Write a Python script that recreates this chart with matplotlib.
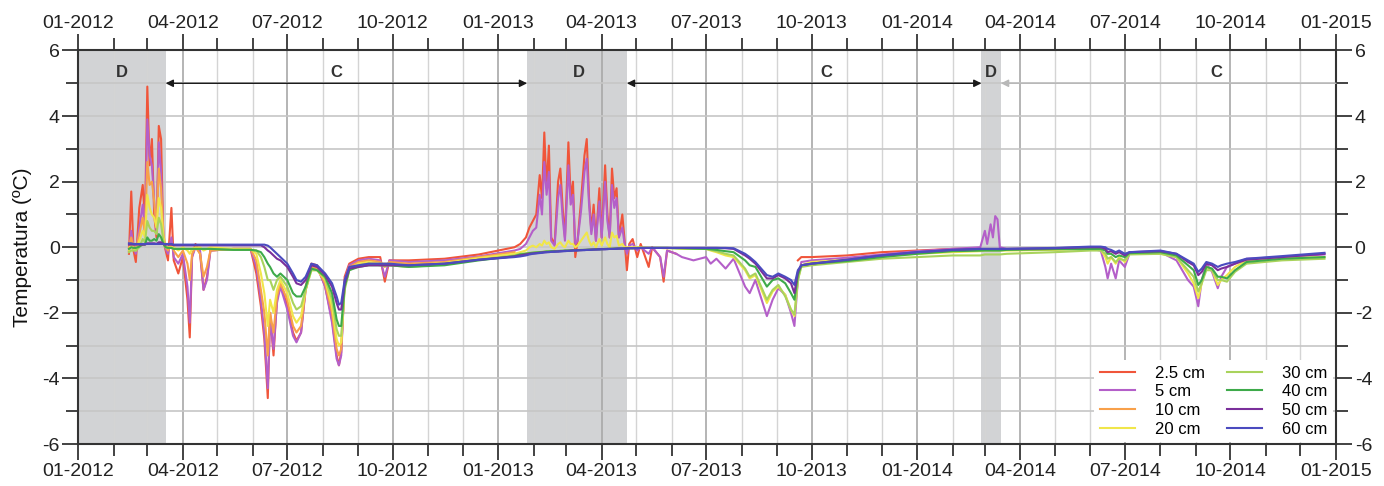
import numpy as np
import pandas as pd
import matplotlib
matplotlib.use('Agg')
import matplotlib.pyplot as plt
import matplotlib.dates as mdates

nan = np.nan

# ---------------- data ----------------
dates = [
    # 2012
    '2012-02-14', '2012-02-16', '2012-02-18', '2012-02-20', '2012-02-23', '2012-02-26', '2012-02-28', '2012-03-01', '2012-03-03', '2012-03-05',
    '2012-03-07', '2012-03-09', '2012-03-11', '2012-03-13', '2012-03-15', '2012-03-17', '2012-03-19', '2012-03-22', '2012-03-24', '2012-03-28',
    '2012-04-01', '2012-04-05', '2012-04-07', '2012-04-09', '2012-04-12', '2012-04-16', '2012-04-19', '2012-04-22', '2012-04-25', '2012-05-15',
    '2012-05-30', '2012-06-04', '2012-06-08', '2012-06-11', '2012-06-14', '2012-06-16', '2012-06-19', '2012-06-22', '2012-06-25', '2012-07-01',
    '2012-07-06', '2012-07-09', '2012-07-13', '2012-07-17', '2012-07-22', '2012-07-27', '2012-08-03', '2012-08-09', '2012-08-13', '2012-08-15',
    '2012-08-17', '2012-08-20', '2012-08-24', '2012-09-01', '2012-09-10', '2012-09-20', '2012-09-24', '2012-09-28', '2012-10-15', '2012-11-15',
    '2012-12-15', '2013-01-15',
    # 2013
    '2013-01-20', '2013-01-25', '2013-01-28', '2013-01-31', '2013-02-03', '2013-02-06', '2013-02-08', '2013-02-10', '2013-02-12', '2013-02-14',
    '2013-02-16', '2013-02-19', '2013-02-22', '2013-02-24', '2013-02-26', '2013-02-28', '2013-03-03', '2013-03-05', '2013-03-07', '2013-03-09',
    '2013-03-11', '2013-03-14', '2013-03-17', '2013-03-19', '2013-03-21', '2013-03-23', '2013-03-25', '2013-03-27', '2013-03-30', '2013-04-01',
    '2013-04-04', '2013-04-06', '2013-04-08', '2013-04-10', '2013-04-12', '2013-04-14', '2013-04-16', '2013-04-19', '2013-04-21', '2013-04-23',
    '2013-04-25', '2013-04-28', '2013-05-02', '2013-05-05', '2013-05-12', '2013-05-15', '2013-05-22', '2013-05-25', '2013-05-28', '2013-06-05',
    '2013-06-10', '2013-06-20', '2013-07-01', '2013-07-05', '2013-07-10', '2013-07-18', '2013-07-25', '2013-08-04', '2013-08-08', '2013-08-13',
    '2013-08-23', '2013-08-28', '2013-09-02', '2013-09-08', '2013-09-13', '2013-09-16', '2013-09-19', '2013-09-22', '2013-10-01', '2013-11-01',
    '2013-12-01', '2014-01-01', '2014-02-01', '2014-02-25',
    # 2014
    '2014-03-01', '2014-03-03', '2014-03-06', '2014-03-08', '2014-03-10', '2014-03-12', '2014-03-14', '2014-03-20', '2014-05-01', '2014-06-01',
    '2014-06-10', '2014-06-14', '2014-06-16', '2014-06-19', '2014-06-23', '2014-06-26', '2014-07-01', '2014-07-05', '2014-08-01', '2014-08-15',
    '2014-08-25', '2014-08-30', '2014-09-03', '2014-09-06', '2014-09-10', '2014-09-15', '2014-09-20', '2014-09-23', '2014-09-28', '2014-10-05',
    '2014-10-15', '2014-11-15', '2014-12-22',
]

t2_5 = [
    -0.2, 1.7, -0.1, -0.45, 1.2, 1.9, 0.8, 4.9, 2.5, 3.3,
    1.0, 0.3, 3.7, 3.3, 0.2, -0.1, -0.4, 1.2, -0.4, -0.8,
    -0.3, -1.6, -2.75, -0.3, 0.1, -0.2, -1.3, -0.9, -0.1, -0.05,
    -0.05, -0.8, -1.8, -2.8, -4.6, -2.0, -3.3, -1.6, -1.1, -1.8,
    -2.6, -2.85, -2.6, -1.2, -0.5, -0.55, -1.2, -2.2, -3.3, -3.6,
    -3.2, -0.9, -0.5, -0.35, -0.3, -0.3, -1.05, -0.4, -0.4, -0.35,
    -0.22, 0.0,
    0.1, 0.3, 0.6, 0.8, 1.0, 2.2, 1.5, 3.5, 1.8, 3.1,
    0.3, 0.1, 2.0, 2.4, 1.2, 0.3, 3.2, 1.5, 2.0, -0.3,
    0.2, 1.4, 2.8, 3.3, 1.5, 0.5, 1.3, 0.2, 1.8, 0.3,
    2.5, 1.0, 0.3, 2.4, 1.5, 1.8, 0.3, 1.0, 0.2, -0.7,
    0.1, 0.25, -0.3, 0.1, -0.6, 0.0, -0.3, -1.05, -0.1, -0.2,
    nan, nan, nan, nan, nan, nan, nan, nan, nan, nan,
    nan, nan, nan, nan, nan, nan, -0.4, -0.3, -0.3, -0.25,
    -0.15, -0.1, -0.05, -0.05,
    nan, nan, nan, nan, nan, nan, nan, nan, nan, nan,
    nan, nan, nan, nan, nan, nan, nan, nan, nan, nan,
    nan, nan, nan, nan, nan, nan, nan, nan, nan, nan,
    nan, nan, nan,
]

t5 = [
    -0.1, 0.5, 0.0, -0.2, 0.6, 1.3, 0.5, 3.9, 2.8, 2.5,
    1.4, 0.5, 3.2, 2.3, 0.3, -0.05, -0.2, 0.3, -0.3, -0.5,
    -0.2, -1.2, -2.3, -0.3, 0.0, -0.1, -1.3, -1.0, -0.1, -0.05,
    -0.05, -0.6, -1.6, -2.6, -4.3, -2.2, -3.1, -1.7, -1.2, -1.9,
    -2.7, -2.9, -2.6, -1.3, -0.55, -0.6, -1.2, -2.3, -3.4, -3.6,
    -3.3, -1.0, -0.55, -0.4, -0.35, -0.4, -0.9, -0.4, -0.45, -0.4,
    -0.28, -0.1,
    -0.05, 0.1, 0.3, 0.5, 0.6, 1.6, 1.0, 2.6, 1.6, 2.3,
    0.2, 0.05, 1.5, 1.9, 0.9, 0.2, 2.5, 1.3, 1.6, 0.1,
    0.2, 1.1, 2.3, 2.7, 1.3, 0.4, 1.0, 0.2, 1.4, 0.3,
    2.0, 0.8, 0.3, 1.9, 1.2, 1.5, 0.3, 0.6, 0.1, -0.2,
    0.05, 0.1, -0.1, 0.0, -0.2, 0.0, -0.3, -0.9, -0.1, -0.2,
    -0.3, -0.4, -0.3, -0.5, -0.35, -0.65, -0.35, -1.2, -1.4, -1.0,
    -2.1, -1.6, -1.25, -1.45, -2.0, -2.4, -1.0, -0.45, -0.4, -0.32,
    -0.22, -0.12, -0.05, 0.0,
    0.5, 0.1, 0.7, 0.3, 0.95, 0.85, 0.0, -0.05, -0.05, -0.05,
    -0.1, -0.6, -0.95, -0.5, -0.95, -0.4, -0.6, -0.2, -0.15, -0.4,
    -1.0, -1.2, -1.8, -1.0, -0.5, -0.75, -1.25, -0.9, -0.6, -0.5,
    -0.35, -0.3, -0.22,
]

t10 = [
    0.0, 0.3, 0.0, -0.1, 0.4, 0.9, 0.4, 2.6, 1.9, 2.0,
    1.4, 0.6, 2.4, 1.8, 0.4, 0.0, -0.1, 0.1, -0.1, -0.3,
    -0.1, -0.5, -1.0, -0.2, 0.0, -0.2, -0.9, -0.6, -0.1, -0.05,
    -0.05, -0.4, -1.3, -2.0, -3.3, -2.0, -2.6, -1.5, -1.1, -1.6,
    -2.4, -2.6, -2.4, -1.3, -0.6, -0.65, -1.1, -2.0, -3.1, -3.3,
    -3.1, -1.1, -0.6, -0.45, -0.4, -0.45, -0.6, -0.45, -0.5, -0.45,
    -0.3, -0.15,
    nan, nan, nan, nan, nan, nan, nan, nan, nan, nan,
    nan, nan, nan, nan, nan, nan, nan, nan, nan, nan,
    nan, nan, nan, nan, nan, nan, nan, nan, nan, nan,
    nan, nan, nan, nan, nan, nan, nan, nan, nan, nan,
    nan, nan, nan, nan, nan, nan, nan, nan, nan, nan,
    nan, nan, nan, nan, nan, nan, nan, nan, nan, nan,
    nan, nan, nan, nan, nan, nan, nan, nan, nan, nan,
    nan, nan, nan, nan,
    nan, nan, nan, nan, nan, nan, nan, nan, nan, nan,
    nan, nan, nan, nan, nan, nan, nan, nan, nan, nan,
    nan, nan, nan, nan, nan, nan, nan, nan, nan, nan,
    nan, nan, nan,
]

t20 = [
    -0.1, 0.1, -0.05, -0.1, 0.2, 0.5, 0.3, 1.6, 1.2, 1.0,
    0.9, 0.6, 1.5, 1.2, 0.3, 0.0, 0.0, 0.0, 0.0, -0.1,
    0.0, -0.1, -0.2, -0.05, 0.0, 0.0, -0.1, -0.05, 0.0, -0.05,
    -0.05, -0.2, -0.8, -1.4, -2.4, -1.6, -2.0, -1.3, -1.0, -1.4,
    -2.1, -2.3, -2.1, -1.3, -0.7, -0.7, -1.0, -1.8, -2.8, -3.0,
    -2.9, -1.2, -0.65, -0.5, -0.45, -0.5, -0.5, -0.5, -0.55, -0.48,
    -0.33, -0.2,
    -0.15, -0.1, 0.0, 0.05, 0.0, 0.1, 0.05, 0.2, 0.1, 0.15,
    0.0, -0.05, 0.1, 0.15, 0.05, 0.0, 0.2, 0.1, 0.1, 0.0,
    0.05, 0.2, 0.35, 0.45, 0.2, 0.05, 0.15, 0.0, 0.25, 0.05,
    0.3, 0.1, 0.0, 0.45, 0.3, 0.35, 0.05, 0.1, 0.0, 0.0,
    0.0, 0.0, 0.0, 0.0, -0.02, -0.02, -0.02, -0.03, -0.03, -0.03,
    -0.05, -0.05, -0.05, -0.1, -0.15, -0.25, -0.3, -0.7, -0.95, -0.85,
    -1.7, -1.35, -1.2, -1.45, -1.9, -2.1, -1.0, -0.55, -0.45, -0.38,
    -0.28, -0.2, -0.15, -0.12,
    -0.1, -0.1, -0.1, -0.1, -0.1, -0.1, -0.1, -0.1, -0.08, -0.05,
    -0.08, -0.3, -0.5, -0.3, -0.5, -0.3, -0.45, -0.2, -0.2, -0.3,
    -0.8, -1.1, -1.55, -1.1, -0.6, -0.7, -1.15, -1.0, -0.85, -0.6,
    -0.4, -0.33, -0.3,
]

t30 = [
    -0.15, -0.1, -0.1, -0.1, 0.0, 0.25, 0.15, 0.8, 0.6, 0.5,
    0.5, 0.4, 0.9, 0.7, 0.2, 0.0, -0.02, -0.02, -0.05, -0.05,
    -0.05, -0.05, -0.05, -0.05, -0.05, -0.05, -0.05, -0.05, -0.05, -0.08,
    -0.08, -0.1, -0.3, -0.6, -1.0, -1.0, -1.3, -1.0, -0.9, -1.2,
    -1.7, -1.9, -1.8, -1.3, -0.7, -0.7, -0.95, -1.6, -2.5, -2.7,
    -2.7, -1.3, -0.7, -0.55, -0.5, -0.55, -0.55, -0.55, -0.6, -0.52,
    -0.38, -0.25,
    -0.2, -0.18, -0.17, -0.16, -0.15, -0.15, -0.14, -0.13, -0.12, -0.12,
    -0.12, -0.12, -0.11, -0.11, -0.1, -0.1, -0.1, -0.09, -0.09, -0.09,
    -0.08, -0.08, -0.08, -0.07, -0.07, -0.07, -0.06, -0.06, -0.06, -0.05,
    -0.05, -0.05, -0.05, -0.04, -0.04, -0.04, -0.04, -0.03, -0.03, -0.03,
    -0.03, -0.03, -0.02, -0.02, -0.02, -0.02, -0.02, -0.02, -0.02, -0.03,
    -0.03, -0.05, -0.05, -0.08, -0.12, -0.2, -0.25, -0.65, -0.9, -0.8,
    -1.6, -1.3, -1.15, -1.5, -1.9, -2.05, -1.0, -0.6, -0.55, -0.45,
    -0.35, -0.3, -0.25, -0.25,
    -0.22, -0.22, -0.22, -0.22, -0.22, -0.22, -0.22, -0.2, -0.15, -0.1,
    -0.1, -0.2, -0.35, -0.3, -0.45, -0.35, -0.4, -0.22, -0.2, -0.3,
    -0.7, -0.9, -1.35, -1.1, -0.7, -0.7, -1.0, -1.0, -1.05, -0.75,
    -0.5, -0.4, -0.35,
]

t40 = [
    -0.05, 0.0, -0.02, -0.02, 0.02, 0.08, 0.08, 0.3, 0.2, 0.2,
    0.25, 0.2, 0.4, 0.3, 0.1, 0.0, -0.02, -0.02, -0.05, -0.05,
    -0.05, -0.05, -0.05, -0.05, -0.05, -0.05, -0.05, -0.05, -0.05, -0.08,
    -0.08, -0.1, -0.15, -0.3, -0.5, -0.6, -0.8, -0.9, -0.8, -1.0,
    -1.4, -1.5, -1.5, -1.2, -0.65, -0.7, -0.9, -1.4, -2.2, -2.4,
    -2.4, -1.2, -0.7, -0.6, -0.55, -0.55, -0.55, -0.55, -0.6, -0.55,
    -0.4, -0.27,
    -0.22, -0.2, -0.18, -0.17, -0.16, -0.15, -0.15, -0.14, -0.13, -0.13,
    -0.12, -0.12, -0.12, -0.11, -0.11, -0.1, -0.1, -0.1, -0.09, -0.09,
    -0.09, -0.08, -0.08, -0.08, -0.07, -0.07, -0.07, -0.06, -0.06, -0.06,
    -0.05, -0.05, -0.05, -0.05, -0.04, -0.04, -0.04, -0.04, -0.03, -0.03,
    -0.03, -0.03, -0.02, -0.02, -0.02, -0.02, -0.02, -0.02, -0.02, -0.03,
    -0.03, -0.04, -0.05, -0.06, -0.08, -0.12, -0.15, -0.4, -0.55, -0.6,
    -1.2, -1.0, -0.95, -1.1, -1.4, -1.6, -0.85, -0.55, -0.5, -0.42,
    -0.3, -0.2, -0.12, -0.1,
    -0.1, -0.1, -0.1, -0.1, -0.1, -0.1, -0.1, -0.08, -0.06, -0.05,
    -0.05, -0.1, -0.2, -0.2, -0.3, -0.25, -0.3, -0.18, -0.15, -0.25,
    -0.55, -0.7, -1.15, -1.0, -0.6, -0.65, -0.9, -0.9, -0.95, -0.7,
    -0.45, -0.35, -0.3,
]

t50 = [
    0.08, 0.08, 0.08, 0.08, 0.08, 0.08, 0.08, 0.12, 0.12, 0.12,
    0.12, 0.1, 0.15, 0.15, 0.1, 0.08, 0.08, 0.08, 0.06, 0.06,
    0.06, 0.06, 0.06, 0.06, 0.06, 0.06, 0.06, 0.06, 0.06, 0.06,
    0.06, 0.06, 0.06, 0.0, -0.1, -0.15, -0.25, -0.35, -0.4, -0.6,
    -0.9, -1.1, -1.15, -1.0, -0.55, -0.6, -0.85, -1.2, -1.7, -1.9,
    -1.9, -1.1, -0.65, -0.6, -0.55, -0.55, -0.55, -0.55, -0.55, -0.5,
    -0.38, -0.28,
    -0.25, -0.22, -0.2, -0.19, -0.18, -0.17, -0.16, -0.15, -0.15, -0.14,
    -0.14, -0.13, -0.13, -0.12, -0.12, -0.11, -0.11, -0.1, -0.1, -0.1,
    -0.09, -0.09, -0.08, -0.08, -0.08, -0.07, -0.07, -0.07, -0.06, -0.06,
    -0.06, -0.05, -0.05, -0.05, -0.05, -0.04, -0.04, -0.04, -0.04, -0.03,
    -0.03, -0.03, -0.03, -0.02, -0.02, -0.02, -0.02, -0.02, -0.02, -0.02,
    -0.02, -0.02, -0.02, -0.02, -0.02, -0.03, -0.05, -0.25, -0.35, -0.5,
    -0.95, -0.95, -0.85, -0.95, -1.1, -1.4, -0.75, -0.55, -0.5, -0.38,
    -0.25, -0.15, -0.08, -0.05,
    -0.05, -0.05, -0.05, -0.05, -0.05, -0.05, -0.05, -0.05, -0.03, 0.0,
    0.0, -0.05, -0.15, -0.12, -0.2, -0.15, -0.25, -0.15, -0.12, -0.2,
    -0.45, -0.55, -0.85, -0.75, -0.5, -0.55, -0.7, -0.65, -0.6, -0.5,
    -0.38, -0.3, -0.2,
]

t60 = [
    0.12, 0.12, 0.1, 0.1, 0.1, 0.1, 0.1, 0.1, 0.1, 0.1,
    0.1, 0.1, 0.1, 0.1, 0.1, 0.1, 0.1, 0.1, 0.08, 0.08,
    0.08, 0.08, 0.08, 0.08, 0.08, 0.08, 0.08, 0.08, 0.08, 0.08,
    0.08, 0.08, 0.08, 0.08, 0.05, 0.0, -0.1, -0.2, -0.3, -0.5,
    -0.8, -1.0, -1.05, -0.9, -0.5, -0.55, -0.8, -1.1, -1.5, -1.75,
    -1.7, -1.0, -0.6, -0.55, -0.5, -0.5, -0.5, -0.5, -0.55, -0.5,
    -0.38, -0.3,
    -0.28, -0.25, -0.22, -0.2, -0.19, -0.18, -0.17, -0.16, -0.15, -0.15,
    -0.14, -0.14, -0.13, -0.13, -0.12, -0.12, -0.11, -0.11, -0.1, -0.1,
    -0.1, -0.09, -0.09, -0.08, -0.08, -0.08, -0.07, -0.07, -0.07, -0.06,
    -0.06, -0.06, -0.05, -0.05, -0.05, -0.05, -0.04, -0.04, -0.04, -0.04,
    -0.03, -0.03, -0.03, -0.02, -0.02, -0.02, -0.02, -0.02, -0.02, -0.02,
    -0.02, -0.02, -0.02, -0.02, -0.02, -0.02, -0.03, -0.2, -0.3, -0.45,
    -0.85, -0.9, -0.8, -0.9, -1.0, -1.15, -0.7, -0.55, -0.5, -0.38,
    -0.25, -0.15, -0.08, -0.05,
    -0.05, -0.05, -0.05, -0.05, -0.05, -0.05, -0.05, -0.05, -0.02, 0.02,
    0.02, 0.0, -0.05, -0.08, -0.15, -0.1, -0.2, -0.15, -0.1, -0.2,
    -0.4, -0.5, -0.75, -0.65, -0.45, -0.5, -0.6, -0.55, -0.5, -0.45,
    -0.35, -0.27, -0.17,
]

depth_labels = ['2.5 cm', '5 cm', '10 cm', '20 cm', '30 cm', '40 cm', '50 cm', '60 cm']
depth_colors = ['#f0553a', '#b45fc9', '#f8a04a', '#f0e64a', '#a9d35c', '#3eaa4a', '#7a2f9b', '#4b4bbf']

# thawing (D) periods and freezing (C) periods
d_start = ['2012-01-01', '2013-01-26', '2014-02-26']
d_end = ['2012-03-17', '2013-04-23', '2014-03-15']
d_label_dates = ['2012-02-08', '2013-03-12', '2014-03-06']
c_label_dates = ['2012-08-13', '2013-10-14', '2014-09-19']

# ---------------- figure ----------------
plt.rcParams['font.family'] = ['Liberation Sans Narrow', 'Liberation Sans', 'DejaVu Sans']
plt.rcParams['axes.unicode_minus'] = False

x = pd.to_datetime(dates)
series = [t2_5, t5, t10, t20, t30, t40, t50, t60]

fig = plt.figure(figsize=(13.84, 4.86), dpi=100)
ax = fig.add_axes([0.0567, 0.0864, 0.9086, 0.8097])
ax.set_axisbelow(True)

for s, e in zip(d_start, d_end):
    ax.axvspan(pd.Timestamp(s), pd.Timestamp(e), color='#d2d3d5', lw=0, zorder=0.2)

for vals, lab, col in zip(series, depth_labels, depth_colors):
    ax.plot(x, np.array(vals, dtype=float), color=col, lw=1.5, label=lab, zorder=2)

ax.set_xlim(pd.Timestamp('2012-01-01'), pd.Timestamp('2015-01-01'))
ax.set_ylim(-6, 6)

ax.xaxis.set_major_locator(mdates.MonthLocator(bymonth=[1, 4, 7, 10]))
ax.xaxis.set_minor_locator(mdates.MonthLocator())
ax.xaxis.set_major_formatter(mdates.DateFormatter('%m-%Y'))
ax.set_yticks(np.arange(-6, 7, 2))
ax.set_yticks(np.arange(-6, 7, 1), minor=True)

ax.xaxis.grid(True, which='major', color='#a8a8a8', lw=1.2)
ax.xaxis.grid(True, which='minor', color='#d4d4d4', lw=1.0)
ax.yaxis.grid(True, which='both', color='#c6c6c6', lw=1.2)

ax.tick_params(which='both', direction='out', top=True, right=True,
               labeltop=True, labelright=True, colors='#222222')
ax.tick_params(which='major', length=11.5, width=1.2, labelsize=14, pad=2)
ax.tick_params(which='minor', length=8.5, width=1.2)
for sp in ax.spines.values():
    sp.set_linewidth(1.5)
    sp.set_color('#333333')

fig.text(0.0166, 0.492, 'Temperatura (ºC)', rotation=90, ha='center', va='center',
         fontsize=15, family=['Liberation Sans', 'DejaVu Sans'], color='#111111')

# period annotations
for dl in d_label_dates:
    ax.text(pd.Timestamp(dl), 5.33, 'D', ha='center', va='center', fontsize=12,
            fontweight='bold', color='#333333', family=['Liberation Sans', 'DejaVu Sans'])
for cl in c_label_dates:
    ax.text(pd.Timestamp(cl), 5.33, 'C', ha='center', va='center', fontsize=12,
            fontweight='bold', color='#333333', family=['Liberation Sans', 'DejaVu Sans'])

for i in range(2):
    ax.annotate('', xy=(pd.Timestamp(d_start[i + 1]), 5.0), xytext=(pd.Timestamp(d_end[i]), 5.0),
                arrowprops=dict(arrowstyle='<|-|>', color='#1a1a1a', lw=1.0,
                                mutation_scale=11, shrinkA=0, shrinkB=0), zorder=3)
ax.annotate('', xy=(pd.Timestamp(d_end[2]), 5.0), xytext=(pd.Timestamp('2015-01-01'), 5.0),
            arrowprops=dict(arrowstyle='-|>', color='#b8b8b8', lw=1.0,
                            mutation_scale=11, shrinkA=0, shrinkB=0), zorder=3)

leg = ax.legend(ncol=2, loc='lower right', bbox_to_anchor=(0.999, 0.0), frameon=True,
                fancybox=False, facecolor='white', edgecolor='none', framealpha=1.0,
                fontsize=12, handlelength=2.1, columnspacing=1.3, labelspacing=0.22,
                handletextpad=1.2, borderpad=0.35, borderaxespad=0.1)
leg.set_zorder(4)

fig.savefig('out.png', dpi=100)
